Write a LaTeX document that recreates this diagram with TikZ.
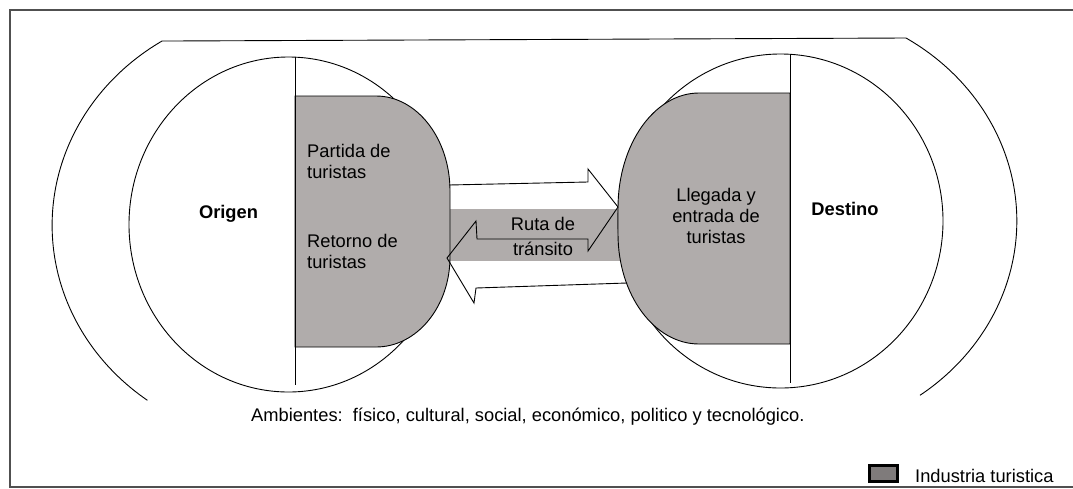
\documentclass[tikz,border=0pt]{standalone}
\usepackage{fontspec}
\setmainfont{Liberation Sans}
\definecolor{indgray}{HTML}{B0ACAB}
\definecolor{leggray}{HTML}{7F7B7B}
\definecolor{framegray}{HTML}{505050}
\begin{document}
\frenchspacing
\begin{tikzpicture}[x=1pt,y=1pt,
  outline/.style={draw=black, line width=0.9pt},
  industry/.style={fill=indgray, draw=black, line width=0.9pt},
  txt/.style={font=\fontsize{18.3}{21}\selectfont, inner sep=0pt, text=black},
  boldtxt/.style={txt, font=\fontsize{18.3}{21}\selectfont\bfseries}]
\useasboundingbox (0,0) rectangle (1073,-488);
\clip (0,0) rectangle (1073,-488);
\fill[white] (0,0) rectangle (1073,-488);
% frame
\draw[framegray, line width=2.6pt] (10,-10) rectangle (1095,-487);
% environment outline
\draw[outline] (147.4,-400.3) arc[start angle=233.4, end angle=122.3, x radius=236, y radius=218]
  -- (906,-38) arc[start angle=57.9, end angle=-53.8, x radius=236.5, y radius=216];
% transit band
\fill[indgray] (446,-209) rectangle (620,-261);
% circles
\draw[outline] (288.5,-224.5) ellipse[x radius=159.5, y radius=167.5];
\draw[outline] (780.5,-221) ellipse[x radius=162.5, y radius=167];
% industry shapes
\draw[industry] (295,-96) -- (376,-96) arc[start angle=90, end angle=0, x radius=74, y radius=95]
  -- (450,-257) arc[start angle=0, end angle=-90, x radius=74, y radius=90] -- (295,-347) -- cycle;
\draw[industry] (790,-93) -- (699,-93) arc[start angle=90, end angle=180, x radius=81, y radius=115]
  -- (618,-234) arc[start angle=180, end angle=270, x radius=81, y radius=110] -- (790,-344) -- cycle;
% dividing lines
\draw[outline] (295,-57) -- (295,-385);
\draw[outline] (790,-54) -- (790,-383);
% double arrow outline
\draw[outline, line join=miter] (449,-185) -- (588,-182) -- (588,-169) -- (618,-207) -- (588,-251)
  -- (588,-239) -- (477,-239) -- (476,-221) -- (447,-258) -- (474,-303) -- (476,-288) -- (627,-283);
% texts (base anchor = baseline of the last line)
\node[boldtxt, anchor=base] (origen) at (228.5,-218.5) {Origen};
\node[boldtxt, anchor=base] (destino) at (845,-215) {Destino};
\node[txt, anchor=base west, align=left] (partida) at (307,-178) {Partida de\\turistas};
\node[txt, anchor=base west, align=left] (retorno) at (307,-268) {Retorno de\\turistas};
\node[txt, anchor=base, align=center] (llegada) at (716,-243) {Llegada y\\entrada de\\turistas};
\node[txt, anchor=base, align=center, font=\fontsize{18.3}{25}\selectfont] (ruta) at (543,-255) {Ruta de\\tránsito};
\node[txt, anchor=base west] (ambientes) at (251,-421) {Ambientes:\ \ físico, cultural, social, económico, politico y tecnológico.};
% legend
\node[draw=black, fill=leggray, line width=3pt, minimum width=28pt, minimum height=16pt, inner sep=0pt] (legbox) at (883.5,-473.5) {};
\node[txt, anchor=base west] (legtext) at (915,-482) {Industria turistica};
\end{tikzpicture}
\end{document}
